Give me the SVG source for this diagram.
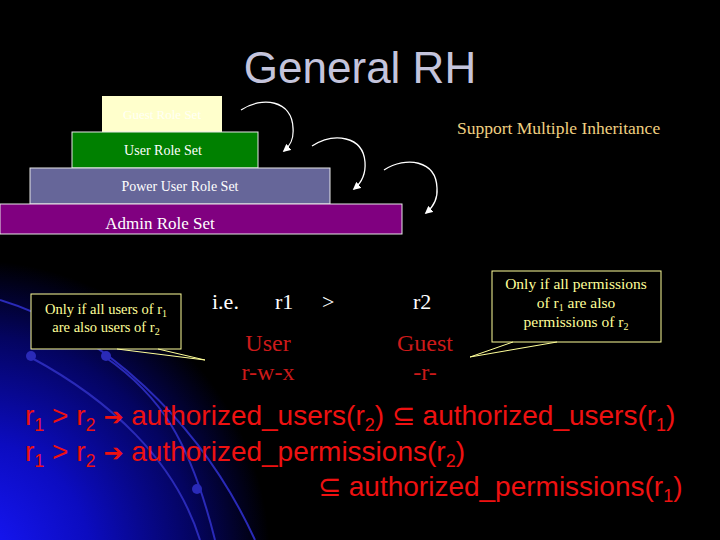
<svg xmlns="http://www.w3.org/2000/svg" width="720" height="540" viewBox="0 0 720 540">
<defs>
<radialGradient id="bg" cx="-30" cy="560" r="300" gradientUnits="userSpaceOnUse">
<stop offset="0" stop-color="#1818ff"/>
<stop offset="0.4" stop-color="#0c0cc0"/>
<stop offset="0.75" stop-color="#040460"/>
<stop offset="1" stop-color="#000000"/>
</radialGradient>
<marker id="ah" viewBox="0 0 10 10" refX="8" refY="5" markerWidth="8" markerHeight="8" orient="auto" markerUnits="userSpaceOnUse">
<path d="M0,0 L10,5 L0,10 z" fill="#ffffff"/>
</marker>
<style>
.serif{font-family:"Liberation Serif","Times New Roman",serif}
.sans{font-family:"Liberation Sans",Arial,sans-serif}
.box{stroke:#e8e8e8;stroke-width:1}
.lbl{fill:#ffffff;font-size:14px}
.call{fill:#000000;stroke:#ffff99;stroke-width:1}
.ctext{fill:#ffff99}
.arc{fill:none;stroke:#ffffff;stroke-width:1.3}
.deco{fill:none;stroke:#2a2ab8;stroke-width:2}
.red{fill:#cc1a1a;font-size:24px}
.formula{fill:#ee1111;font-size:28px}
.sub{font-size:18px}
.arr{font-family:"DejaVu Sans",sans-serif;font-size:24px}
</style>
</defs>
<rect x="0" y="0" width="720" height="540" fill="#000"/>
<rect x="0" y="230" width="720" height="310" fill="url(#bg)"/>
<g id="decoration">
<path class="deco" d="M30,357 C110,400 175,460 200,540"/>
<path class="deco" d="M105,357 C160,395 190,440 215,540"/>
<path class="deco" d="M0,300 C100,330 200,420 255,540"/>
<circle cx="31" cy="356" r="5" fill="#2a2ab8"/>
<circle cx="106" cy="356" r="5" fill="#2a2ab8"/>
<circle cx="197" cy="489" r="5" fill="#2a2ab8"/>
</g>
<text class="sans" x="360" y="83" text-anchor="middle" font-size="44" fill="#c4c4dc">General RH</text>
<g id="guest">
<rect x="102" y="96" width="120" height="36" fill="#ffffcc"/>
<text class="serif" x="162" y="119" text-anchor="middle" font-size="13" fill="#ffffff" opacity="0.8">Guest Role Set</text>
</g>
<g id="user">
<rect class="box" x="72" y="132" width="186" height="36" fill="#008000"/>
<text class="serif lbl" x="163" y="155" text-anchor="middle">User Role Set</text>
</g>
<g id="power">
<rect class="box" x="30" y="168" width="300" height="36" fill="#666699"/>
<text class="serif lbl" x="180" y="191" text-anchor="middle">Power User Role Set</text>
</g>
<g id="admin">
<rect class="box" x="0" y="204" width="402" height="30" fill="#800080"/>
<text class="serif" x="160" y="229" text-anchor="middle" font-size="17" fill="#ffffff">Admin Role Set</text>
</g>
<g id="connectors">
<path class="arc" d="M241,110 C262,96 292,100 293,128 C294,140 290,146 284,151" marker-end="url(#ah)"/>
<path class="arc" d="M312,146 C334,132 363,136 365,162 C366,175 360,184 354,189" marker-end="url(#ah)"/>
<path class="arc" d="M384,170 C406,156 436,160 437,188 C438,200 432,208 426,213" marker-end="url(#ah)"/>
</g>
<text class="serif" x="457" y="134" font-size="17.5" fill="#f0d080">Support Multiple Inheritance</text>
<g id="callout1">
<rect class="call" x="31" y="294" width="150" height="55"/>
<path d="M117,349 L205,360 L158,349" fill="none" stroke="#ffff99" stroke-width="1"/>
<text class="serif ctext" x="106" y="314" text-anchor="middle" font-size="14.5">Only if all users of r<tspan font-size="10" dy="3">1</tspan></text>
<text class="serif ctext" x="106" y="332" text-anchor="middle" font-size="14.5">are also users of r<tspan font-size="10" dy="3">2</tspan></text>
</g>
<g id="callout2">
<rect class="call" x="492" y="271" width="169" height="71"/>
<path d="M557,342 L470,357 L513,342" fill="none" stroke="#ffff99" stroke-width="1"/>
<text class="serif ctext" x="576" y="289" text-anchor="middle" font-size="15.5">Only if all permissions</text>
<text class="serif ctext" x="576" y="308" text-anchor="middle" font-size="15.5">of r<tspan font-size="10" dy="3">1</tspan><tspan dy="-3"> are also</tspan></text>
<text class="serif ctext" x="576" y="327" text-anchor="middle" font-size="15.5">permissions of r<tspan font-size="10" dy="3">2</tspan></text>
</g>
<g id="example" class="serif">
<text x="212" y="309" font-size="22" fill="#ffffff">i.e.</text>
<text x="275" y="309" font-size="22" fill="#ffffff">r1</text>
<text x="322" y="309" font-size="22" fill="#ffffff">&gt;</text>
<text x="413" y="309" font-size="22" fill="#ffffff">r2</text>
<text class="red" x="268" y="351" text-anchor="middle">User</text>
<text class="red" x="268" y="380" text-anchor="middle">r-w-x</text>
<text class="red" x="425" y="351" text-anchor="middle">Guest</text>
<text class="red" x="425" y="380" text-anchor="middle">-r-</text>
</g>
<g id="formulas" class="sans">
<text class="formula" x="25" y="425">r<tspan class="sub" dy="6">1</tspan><tspan dy="-6"> &gt; r</tspan><tspan class="sub" dy="6">2</tspan><tspan dy="-6"> </tspan><tspan class="arr">➔</tspan><tspan> authorized_users(r</tspan><tspan class="sub" dy="6">2</tspan><tspan dy="-6">) ⊆ authorized_users(r</tspan><tspan class="sub" dy="6">1</tspan><tspan dy="-6">)</tspan></text>
<text class="formula" x="25" y="461">r<tspan class="sub" dy="6">1</tspan><tspan dy="-6"> &gt; r</tspan><tspan class="sub" dy="6">2</tspan><tspan dy="-6"> </tspan><tspan class="arr">➔</tspan><tspan> authorized_permissions(r</tspan><tspan class="sub" dy="6">2</tspan><tspan dy="-6">)</tspan></text>
<text class="formula" x="318" y="496">⊆ authorized_permissions(r<tspan class="sub" dy="6">1</tspan><tspan dy="-6">)</tspan></text>
</g>
</svg>
